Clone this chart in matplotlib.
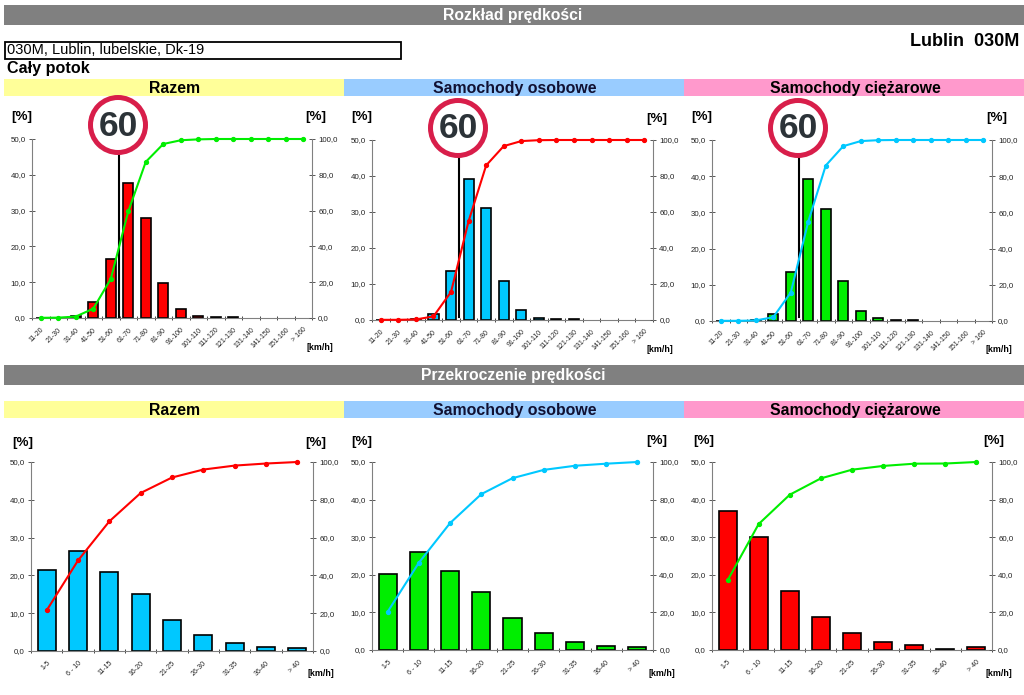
import matplotlib
matplotlib.use("Agg")
import matplotlib.pyplot as plt
from matplotlib.patches import Circle, Rectangle

plt.rcParams['font.family'] = ['Liberation Sans', 'DejaVu Sans']

W, H = 1024, 695

# Speed distribution data
speed_bins = ['11-20', '21-30', '31-40', '41-50', '51-60', '61-70', '71-80', '81-90',
              '91-100', '101-110', '111-120', '121-130', '131-140', '141-150', '151-160', '> 160']
all_dist = [0.1, 0.1, 0.6, 4.6, 16.5, 37.7, 28.0, 9.8, 2.5, 0.6, 0.3, 0.2, 0.0, 0.0, 0.0, 0.0]
all_cum = [0.1, 0.2, 0.8, 5.2, 21.8, 59.5, 87.2, 97.2, 99.3, 99.8, 100, 100, 100, 100, 100, 100]
car_dist = [0.1, 0.1, 0.2, 1.7, 13.6, 39.3, 31.0, 10.9, 2.7, 0.6, 0.3, 0.2, 0.0, 0.0, 0.0, 0.0]
car_cum = [0.1, 0.1, 0.3, 2.0, 15.6, 54.9, 85.9, 96.6, 99.4, 99.9, 100, 100, 100, 100, 100, 100]
hgv_dist = [0.1, 0.1, 0.3, 1.8, 13.6, 39.2, 31.0, 11.0, 2.8, 0.7, 0.3, 0.2, 0.0, 0.0, 0.0, 0.0]
hgv_cum = [0.1, 0.1, 0.3, 2.1, 15.7, 54.9, 85.9, 96.6, 99.4, 99.9, 100, 100, 100, 100, 100, 100]

# Speeding data
over_bins = ['1-5', '6 - 10', '11-15', '16-20', '21-25', '26-30', '31-35', '36-40', '> 40']
all_over = [21.5, 26.4, 20.8, 15.0, 8.2, 4.2, 2.1, 1.0, 0.9]
all_over_cum = [21.5, 47.9, 68.6, 83.6, 91.8, 96.0, 98.1, 99.2, 100]
car_over = [20.3, 26.1, 21.1, 15.4, 8.5, 4.4, 2.2, 1.1, 0.9]
car_over_cum = [20.3, 46.4, 67.5, 82.9, 91.4, 95.8, 98.0, 99.1, 100]
hgv_over = [37.0, 30.0, 15.6, 8.7, 4.6, 2.0, 1.2, 0.3, 0.9]
hgv_over_cum = [37.0, 67.0, 82.6, 91.3, 95.9, 97.9, 99.1, 99.2, 100]

left_ticks = [0, 10, 20, 30, 40, 50]
right_ticks = [0, 20, 40, 60, 80, 100]

RED = '#ff0000'
GREEN = '#00ee00'
BLUE = '#00c8ff'


def pct(v):
    return f"{v:.1f}".replace('.', ',')


def draw_chart(box, bins, dist, cum, bar_color, line_color):
    x0, y0, x1, y1 = box
    ax = fig.add_axes([x0 / W, 1 - y1 / H, (x1 - x0) / W, (y1 - y0) / H], zorder=2)
    ax.patch.set_alpha(0)
    pos = list(range(len(bins)))
    # Empty classes get no bar, otherwise the edge shows as a black dash
    bar_pos = [p for p in pos if dist[p] > 0]
    ax.bar(bar_pos, [dist[p] for p in bar_pos], width=0.58, color=bar_color, edgecolor='black', linewidth=1.2)
    ax.set_xlim(-0.5, len(bins) - 0.5)
    ax.set_ylim(0, 50)
    ax.set_yticks(left_ticks)
    ax.set_yticklabels([pct(v) for v in left_ticks], fontsize=5.7, color='#222222')
    ax.set_xticks([p - 0.5 for p in pos] + [len(bins) - 0.5])
    ax.set_xticklabels([])
    ax.set_xticks(pos, minor=True)
    ax.set_xticklabels(bins, minor=True, rotation=45, ha='right', rotation_mode='anchor',
                       fontsize=5.0, color='#222222')
    ax.tick_params(axis='x', which='minor', length=0, pad=6)
    ax.tick_params(axis='x', which='major', direction='inout', length=3.5, width=0.7, color='#444444')
    ax.tick_params(axis='y', direction='inout', length=5, width=0.7, color='#555555', pad=2)
    for s in ['top', 'right']:
        ax.spines[s].set_visible(False)
    ax.spines['left'].set_color('#808080')
    ax.spines['bottom'].set_color('#808080')

    ax2 = ax.twinx()
    ax2.patch.set_alpha(0)
    ax2.plot(pos, cum, color=line_color, linewidth=1.5, marker='o', markersize=2.8, clip_on=False, zorder=5)
    ax2.set_ylim(0, 100)
    ax2.set_yticks(right_ticks)
    ax2.set_yticklabels([pct(v) for v in right_ticks], fontsize=5.7, color='#222222')
    ax2.tick_params(axis='y', direction='inout', length=5, width=0.7, color='#555555', pad=2)
    for s in ['top', 'left', 'bottom']:
        ax2.spines[s].set_visible(False)
    ax2.spines['right'].set_color('#808080')


fig = plt.figure(figsize=(W / 100, H / 100), dpi=100, facecolor='white')

# Page furniture is placed in pixel coordinates
bg = fig.add_axes([0, 0, 1, 1], zorder=1)
bg.set_xlim(0, W)
bg.set_ylim(H, 0)
bg.axis('off')
fg = fig.add_axes([0, 0, 1, 1], zorder=5)
fg.set_xlim(0, W)
fg.set_ylim(H, 0)
fg.axis('off')
fg.patch.set_alpha(0)

for y, txt in [(5, 'Rozkład prędkości'), (365, 'Przekroczenie prędkości')]:
    bg.add_patch(Rectangle((4, y), 1020, 20, color='#808080', lw=0))
    bg.text(513, y + 10.5, txt, color='white', fontsize=11.3, fontweight='bold', ha='center', va='center')

titles = ['Razem', 'Samochody osobowe', 'Samochody ciężarowe']
band_colors = ['#ffff99', '#99ccff', '#ff99cc']
band_x = [4, 344, 684, 1024]
for y in [79, 401]:
    for i in range(3):
        bg.add_patch(Rectangle((band_x[i], y), band_x[i + 1] - band_x[i], 16.5, color=band_colors[i], lw=0))
        bg.text((band_x[i] + band_x[i + 1]) / 2 + 1, y + 9.5, titles[i], color='#111133' if i == 1 else 'black',
                fontsize=11.4, fontweight='bold', ha='center', va='center')

bg.add_patch(Rectangle((4.5, 41.5), 396.5, 17.5, facecolor='white', edgecolor='black', lw=1.3))
bg.text(7, 50.5, '030M, Lublin, lubelskie, Dk-19', fontsize=10.5, ha='left', va='center')
bg.text(7, 68, 'Cały potok', fontsize=11.6, fontweight='bold', ha='left', va='center')
bg.text(1019, 42, 'Lublin  030M', fontsize=13, fontweight='bold', ha='right', va='center')

# Speed limit signs, the pole goes behind the chart lines
for cx, cy in [(118, 125), (458, 128), (798, 128)]:
    bg.plot([cx + 1, cx + 1], [cy, 317], color='black', lw=1.5)
    fg.add_patch(Circle((cx, cy), 27.5, facecolor='white', edgecolor='#d81e4a', lw=3.6))
    fg.text(cx + 0.5, cy + 1, '60', color='#2c3338', fontsize=25.5, fontweight='bold', ha='center', va='center')

draw_chart((32, 139, 312, 318), speed_bins, all_dist, all_cum, RED, GREEN)
draw_chart((372, 140, 653, 320), speed_bins, car_dist, car_cum, BLUE, RED)
draw_chart((712, 140, 992, 321), speed_bins, hgv_dist, hgv_cum, GREEN, BLUE)
draw_chart((31, 462, 313, 651), over_bins, all_over, all_over_cum, BLUE, RED)
draw_chart((372, 462, 653, 650), over_bins, car_over, car_over_cum, GREEN, BLUE)
draw_chart((712, 462, 992, 650), over_bins, hgv_over, hgv_over_cum, RED, GREEN)

# Unit labels
for x, y in [(21, 117), (315, 117), (361, 117), (656, 119), (701, 117), (996, 118),
             (22, 443), (315, 443), (361, 442), (656, 441), (703, 441), (993, 441)]:
    fg.text(x + 1, y, '[%]', fontsize=9.6, fontweight='bold', ha='center', va='center')
for x, y in [(333, 347), (673, 349), (1012, 350), (334, 674), (675, 673), (1012, 673)]:
    fg.text(x, y, '[km/h]', fontsize=6.4, fontweight='bold', ha='right', va='center')

fig.savefig('out.png', dpi=100)
